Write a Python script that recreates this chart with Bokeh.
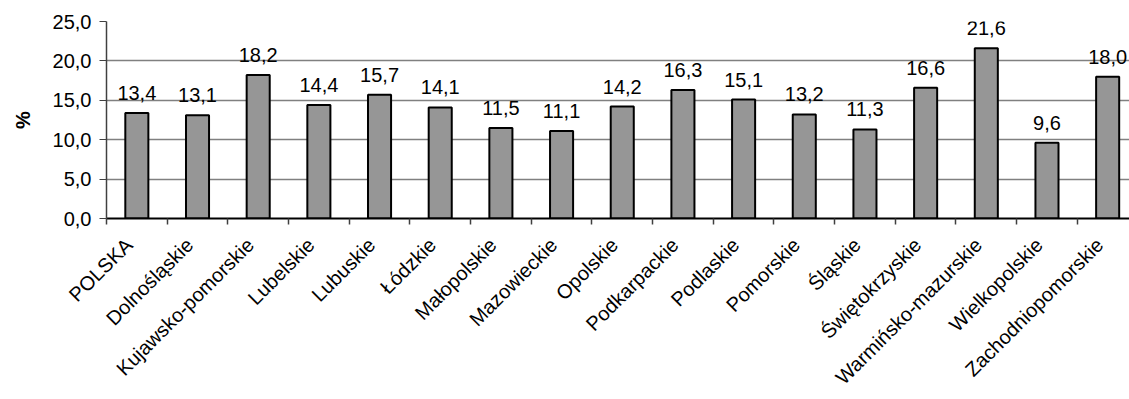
import math

from bokeh.embed import file_html
from bokeh.models import ColumnDataSource, FixedTicker, Range1d
from bokeh.plotting import figure
from bokeh.resources import INLINE

# Share of population (%) by voivodeship
regions = [
    "POLSKA", "Dolnośląskie", "Kujawsko-pomorskie", "Lubelskie", "Lubuskie",
    "Łódzkie", "Małopolskie", "Mazowieckie", "Opolskie", "Podkarpackie",
    "Podlaskie", "Pomorskie", "Śląskie", "Świętokrzyskie",
    "Warmińsko-mazurskie", "Wielkopolskie", "Zachodniopomorskie",
]
values = [13.4, 13.1, 18.2, 14.4, 15.7, 14.1, 11.5, 11.1, 14.2, 16.3,
          15.1, 13.2, 11.3, 16.6, 21.6, 9.6, 18.0]
y_ticks = [0, 5, 10, 15, 20, 25]
y_label = "%"


def pl_num(v):
    return f"{v:.1f}".replace(".", ",")


FONT = "Liberation Sans"
SIZE = "20px"

centers = [i + 0.5 for i in range(len(regions))]
edges = list(range(len(regions) + 1))
# slanted names end a little left of the bar centre
label_pos = [round(c - 0.13, 2) for c in centers]

source = ColumnDataSource(dict(
    x=centers,
    top=values,
    label=[pl_num(v) for v in values],
))

p = figure(
    width=1129, height=399,
    x_range=Range1d(0, 16.86), y_range=Range1d(0, 25),
    output_backend="svg", toolbar_location=None, tools="",
    min_border_left=106, min_border_right=0,
    min_border_top=21, min_border_bottom=181,
)
p.outline_line_color = None
p.background_fill_color = "white"
p.border_fill_color = "white"

p.vbar(x="x", top="top", bottom=0, width=0.38, source=source,
       fill_color="#969696", line_color="black", line_width=2)

# value labels above the bars
p.text(x="x", y="top", text="label", source=source,
       text_align="center", text_baseline="bottom", y_offset=-13,
       text_font={"value": FONT}, text_font_size=SIZE, text_color="black")

# Y axis
p.yaxis.ticker = FixedTicker(ticks=y_ticks)
p.yaxis.major_label_overrides = {t: pl_num(t) for t in y_ticks}
p.yaxis.minor_tick_line_color = None
p.yaxis.major_tick_in = 0
p.yaxis.major_tick_out = 7
p.yaxis.major_tick_line_color = "#404040"
p.yaxis.axis_line_color = "#404040"
p.yaxis.axis_line_width = 1.5
p.yaxis.major_label_standoff = 8
p.yaxis.major_label_text_font = FONT
p.yaxis.major_label_text_font_size = SIZE
p.yaxis.major_label_text_color = "black"
p.yaxis.axis_label = y_label
p.yaxis.axis_label_text_font = FONT
p.yaxis.axis_label_text_font_size = SIZE
p.yaxis.axis_label_text_font_style = "bold"
p.yaxis.axis_label_text_color = "black"
p.yaxis.axis_label_standoff = 16

# X axis: slanted names, tick marks between categories
p.xaxis.ticker = FixedTicker(ticks=label_pos, minor_ticks=edges)
p.xaxis.major_label_overrides = {t: r for t, r in zip(label_pos, regions)}
p.xaxis.major_tick_in = 0
p.xaxis.major_tick_out = 0
p.xaxis.major_tick_line_color = None
p.xaxis.minor_tick_in = 0
p.xaxis.minor_tick_out = 6
p.xaxis.minor_tick_line_color = "#404040"
p.xaxis.minor_tick_line_width = 1.5
p.xaxis.axis_line_color = "black"
p.xaxis.axis_line_width = 2
p.xaxis.major_label_orientation = math.pi / 4
p.xaxis.major_label_standoff = 17
p.xaxis.major_label_text_font = FONT
p.xaxis.major_label_text_font_size = SIZE
p.xaxis.major_label_text_color = "black"

p.xgrid.grid_line_color = None
p.ygrid.ticker = FixedTicker(ticks=y_ticks[1:])
p.ygrid.grid_line_color = "#808080"
p.ygrid.grid_line_width = 1.5

open("out.html", "w").write(file_html(p, INLINE))
